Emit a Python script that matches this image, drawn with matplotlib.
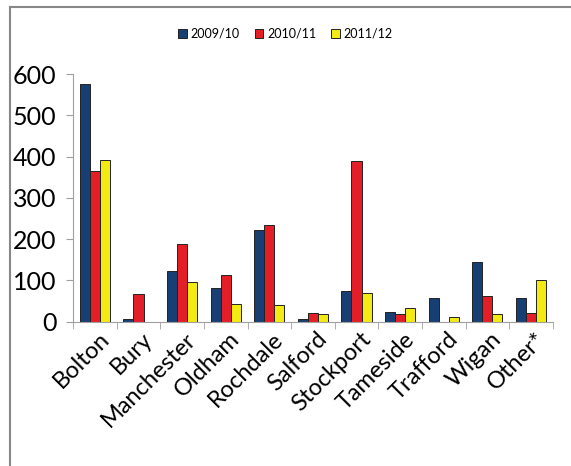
import matplotlib.pyplot as plt
import matplotlib.lines as mlines
import numpy as np

plt.rcParams['font.family'] = ['Lato', 'DejaVu Sans']

areas = ['Bolton', 'Bury', 'Manchester', 'Oldham', 'Rochdale', 'Salford',
         'Stockport', 'Tameside', 'Trafford', 'Wigan', 'Other*']
y2009 = [575, 5, 123, 82, 222, 6, 74, 24, 56, 145, 58]
y2010 = [365, 66, 188, 114, 234, 20, 389, 18, 0, 62, 20]
y2011 = [391, 0, 96, 42, 40, 18, 69, 32, 11, 18, 101]
series = ['2009/10', '2010/11', '2011/12']
colors = ['#173f74', '#e41e26', '#f2ea12']

fig = plt.figure(figsize=(5.71, 4.66), dpi=100)
ax = fig.add_axes([0.128, 0.31, 0.84, 0.531])

x = np.arange(len(areas))
w = 0.23
for i, (vals, lab, c) in enumerate(zip([y2009, y2010, y2011], series, colors)):
    ax.bar(x + (i - 1) * w, vals, w, color=c, edgecolor='#222222', linewidth=0.7, label=lab)

ax.set_xlim(-0.5, len(areas) - 0.5)
ax.set_ylim(0, 600)
ax.set_yticks(range(0, 601, 100))
ax.tick_params(axis='y', labelsize=18, length=5, color='#a0a0a0', pad=7)
ax.set_xticks(x + 0.08)
ax.set_xticklabels(areas, rotation=45, ha='right', rotation_mode='anchor', fontsize=17)
ax.tick_params(axis='x', which='major', length=0, pad=5)
ax.set_xticks(np.arange(-0.5, len(areas), 1), minor=True)
ax.tick_params(axis='x', which='minor', length=5, color='#a0a0a0')
for s in ['top', 'right']:
    ax.spines[s].set_visible(False)
for s in ['left', 'bottom']:
    ax.spines[s].set_color('#a0a0a0')

fig.legend(loc='upper center', bbox_to_anchor=(0.5, 0.965), ncol=3, frameon=False,
           fontsize=9, handlelength=0.7, handleheight=0.7, handletextpad=0.3, columnspacing=1.2)

# outer frame (top and left edges visible)
fig.add_artist(mlines.Line2D([0.017, 1], [0.984, 0.984], color='#888888', lw=1.5, transform=fig.transFigure))
fig.add_artist(mlines.Line2D([0.017, 0.017], [0, 0.984], color='#888888', lw=1.5, transform=fig.transFigure))

fig.savefig('out.png', dpi=100, facecolor='white')
